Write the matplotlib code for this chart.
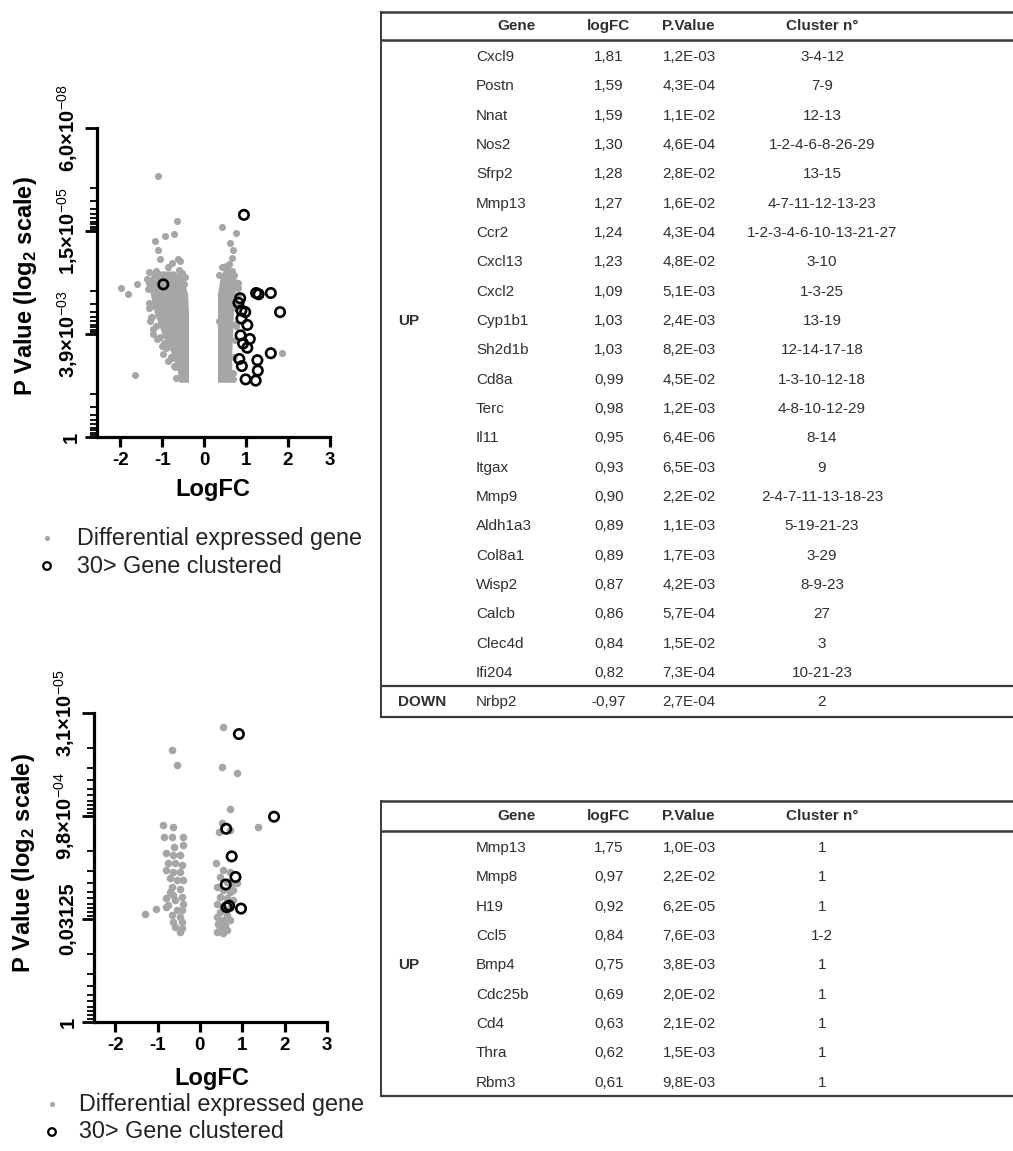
import numpy as np
import matplotlib
matplotlib.use("Agg")
import matplotlib.pyplot as plt

W, H = 1013, 1151
plt.rcParams["font.family"] = ["Liberation Sans", "DejaVu Sans"]
plt.rcParams["mathtext.fontset"] = "custom"
plt.rcParams["mathtext.rm"] = "Liberation Sans"
plt.rcParams["mathtext.bf"] = "Liberation Sans:bold"

GRAY = "#a6a6a6"
INK = "#303030"

# ---- table 1 (top): genes clustered, first comparison ----
genes1 = ["Cxcl9", "Postn", "Nnat", "Nos2", "Sfrp2", "Mmp13", "Ccr2", "Cxcl13",
          "Cxcl2", "Cyp1b1", "Sh2d1b", "Cd8a", "Terc", "Il11", "Itgax", "Mmp9",
          "Aldh1a3", "Col8a1", "Wisp2", "Calcb", "Clec4d", "Ifi204", "Nrbp2"]
logfc1 = [1.81, 1.59, 1.59, 1.30, 1.28, 1.27, 1.24, 1.23, 1.09, 1.03, 1.03, 0.99,
          0.98, 0.95, 0.93, 0.90, 0.89, 0.89, 0.87, 0.86, 0.84, 0.82, -0.97]
pval1 = [1.2e-3, 4.3e-4, 1.1e-2, 4.6e-4, 2.8e-2, 1.6e-2, 4.3e-4, 4.8e-2, 5.1e-3,
         2.4e-3, 8.2e-3, 4.5e-2, 1.2e-3, 6.4e-6, 6.5e-3, 2.2e-2, 1.1e-3, 1.7e-3,
         4.2e-3, 5.7e-4, 1.5e-2, 7.3e-4, 2.7e-4]
cluster1 = ["3-4-12", "7-9", "12-13", "1-2-4-6-8-26-29", "13-15", "4-7-11-12-13-23",
            "1-2-3-4-6-10-13-21-27", "3-10", "1-3-25", "13-19", "12-14-17-18",
            "1-3-10-12-18", "4-8-10-12-29", "8-14", "9", "2-4-7-11-13-18-23",
            "5-19-21-23", "3-29", "8-9-23", "27", "3", "10-21-23", "2"]
n_up1 = 22

# ---- table 2 (bottom) ----
genes2 = ["Mmp13", "Mmp8", "H19", "Ccl5", "Bmp4", "Cdc25b", "Cd4", "Thra", "Rbm3"]
logfc2 = [1.75, 0.97, 0.92, 0.84, 0.75, 0.69, 0.63, 0.62, 0.61]
pval2 = [1.0e-3, 2.2e-2, 6.2e-5, 7.6e-3, 3.8e-3, 2.0e-2, 2.1e-2, 1.5e-3, 9.8e-3]
cluster2 = ["1", "1", "1", "1-2", "1", "1", "1", "1", "1"]

# ---- volcano 1: dense bands of DE genes (y = -log2 P) ----
band1_left_y = [4.25, 5.2, 6.5, 8.0, 9.6, 11.1, 12.3, 12.9]
band1_left_x0 = [-0.60, -0.64, -0.78, -1.00, -1.18, -1.28, -1.30, -1.22]
band1_left_x1 = [-0.37, -0.37, -0.37, -0.37, -0.37, -0.39, -0.50, -0.70]
band1_right_y = [4.25, 6.5, 9.6, 11.1, 12.2, 13.1]
band1_right_x0 = [0.32, 0.32, 0.32, 0.32, 0.37, 0.47]
band1_right_x1 = [0.66, 0.66, 0.70, 0.74, 0.78, 0.67]

# scattered DE genes outside / on the edge of the dense bands
gray1_x = [-1.10, -0.65, -0.71, -0.93, -1.17, -1.09, -1.05, -0.62, -0.76, -0.57,
           -1.98, -1.81, -1.60, -0.48, -1.64, -1.21, -0.97, -0.77, -1.15, -0.85,
           -1.25, -1.20, -1.28, -1.22, -1.12, -1.00, -0.90, -0.85, -0.72, -1.30,
           -1.36, -1.30, -0.45, -0.55,
           -0.66, -0.70, -0.79, -0.95, -1.06, -1.15, -1.26, -1.31, -1.34, -1.32,
           -0.52, -0.60, -0.88, -1.03, -1.18,
           0.43, 0.76, 0.62, 0.69, 0.67, 0.57, 1.85, 0.72, 0.80, 0.60, 0.78,
           0.75, 0.52, 0.66,
           0.69, 0.71, 0.73, 0.75, 0.77, 0.80, 0.82, 0.36, 0.42, 0.70, 0.35]
gray1_y = [20.3, 16.8, 15.8, 15.6, 15.2, 14.5, 13.8, 13.8, 13.5, 13.7,
           11.6, 11.1, 11.9, 11.9, 4.8, 8.0, 6.45, 6.1, 12.9, 13.2,
           9.3, 10.2, 9.0, 8.4, 7.6, 7.1, 6.9, 5.9, 5.5, 10.0,
           12.3, 12.8, 12.4, 12.6,
           4.6, 5.4, 6.2, 7.3, 7.8, 8.6, 9.3, 10.4, 11.5, 12.0,
           12.7, 13.0, 7.9, 8.9, 10.6,
           16.3, 15.85, 15.1, 14.5, 13.9, 13.0, 6.5, 12.6, 11.6, 13.4, 10.3,
           8.6, 13.3, 12.9,
           5.0, 6.2, 7.5, 8.8, 10.0, 11.0, 12.0, 12.6, 13.2, 4.5, 9.0]

# ---- volcano 2: DE genes ----
gray2_x = [-0.87, -0.63, -0.85, -0.65, -0.41, -0.62, -0.41, -0.81, -0.63, -0.47,
           -0.75, -0.59, -0.43, -0.79, -0.63, -0.47, -0.71, -0.55, -0.41, -0.67,
           -0.47, -0.63, -0.43, -0.79, -0.59, -0.41, -0.75, -0.55, -0.43, -1.03,
           -1.30, -0.67, -0.47, -0.63, -0.43, -0.59, -0.43, -0.47, -0.79, -0.71,
           -0.67, -0.53,
           0.38, 0.54, 0.70, 0.47, 0.63, 0.75, 0.40, 0.55, 0.71, 0.47,
           0.63, 0.79, 0.40, 0.55, 0.71, 0.47, 0.63, 0.40, 0.55, 0.71,
           0.43, 0.59, 0.47, 0.63, 0.40, 0.55, 0.51, 0.71, 0.79, 0.87,
           0.54, 0.53, 0.87, 0.70, 1.36, 0.46]
gray2_y = [9.56, 9.45, 9.00, 9.00, 9.00, 8.51, 8.59, 8.18, 8.10, 8.10,
           7.70, 7.70, 7.62, 7.37, 7.29, 7.29, 6.97, 6.89, 6.89, 6.56,
           6.48, 6.16, 6.08, 6.00, 5.92, 5.75, 5.67, 5.43, 5.43, 5.48,
           5.23, 5.19, 5.11, 4.86, 4.86, 4.62, 4.54, 4.38, 5.59, 6.32,
           13.2, 12.5,
           7.70, 7.37, 7.29, 7.05, 6.81, 6.73, 6.56, 6.40, 6.32, 6.08,
           6.00, 5.92, 5.75, 5.59, 5.51, 5.35, 5.19, 5.11, 4.94, 4.94,
           4.78, 4.70, 4.54, 4.46, 4.38, 4.30, 9.64, 9.32, 6.40, 6.73,
           14.33, 12.36, 12.1, 10.33, 9.45, 9.24]

fig = plt.figure(figsize=(W / 100, H / 100), dpi=100)


def px_axes(x0, y0, x1, y1):
    return fig.add_axes([x0 / W, 1 - y1 / H, (x1 - x0) / W, (y1 - y0) / H])


def volcano(ax, bands, gx, gy, cx, cy, xlim, ticks, ticklabels, dot_s):
    for yb, xl, xr in bands:
        ax.fill_betweenx(yb, xl, xr, color=GRAY, lw=0, zorder=1)
    ax.scatter(gx, gy, s=dot_s, color=GRAY, lw=0, zorder=2)
    ax.scatter(cx, cy, s=46, facecolors="none", edgecolors="black",
               linewidths=1.9, zorder=3)
    ax.set_xlim(*xlim)
    ax.set_ylim(0, ticks[-1])
    for s in ("top", "right"):
        ax.spines[s].set_visible(False)
    for s in ("left", "bottom"):
        ax.spines[s].set_linewidth(2.3)
    ax.set_xticks(range(-2, 4))
    ax.set_xticklabels([str(v) for v in range(-2, 4)], fontsize=13.5,
                       fontweight="bold")
    ax.set_yticks(ticks)
    ax.set_yticklabels(ticklabels, rotation=90, va="center", fontsize=14.5,
                       fontweight="bold")
    minor = [t + np.log2(10 / n) for t in ticks[:-1] for n in range(1, 10)]
    ax.set_yticks(minor, minor=True)
    ax.tick_params(axis="x", length=7, width=2.3, pad=4)
    ax.tick_params(axis="y", which="major", length=9, width=2, pad=3)
    ax.tick_params(axis="y", which="minor", length=5, width=1.3)
    ax.patch.set_alpha(0)


ax1 = px_axes(97, 128, 330, 437)
volcano(ax1,
        [(band1_left_y, band1_left_x0, band1_left_x1),
         (band1_right_y, band1_right_x0, band1_right_x1)],
        gray1_x, gray1_y, logfc1, -np.log2(pval1), (-2.55, 3.0),
        [0, 8, 16, 24],
        ["1", r"3,9×10$^{-03}$", r"1,5×10$^{-05}$", r"6,0×10$^{-08}$"], 26)

ax2 = px_axes(94, 713, 327, 1022)
volcano(ax2, [], gray2_x, gray2_y, logfc2, -np.log2(pval2), (-2.5, 3.0),
        [0, 5, 10, 15],
        ["1", "0,03125", r"9,8×10$^{-04}$", r"3,1×10$^{-05}$"], 30)

# ---- overlay in pixel coordinates: labels, legends, tables ----
ov = fig.add_axes([0, 0, 1, 1])
ov.set_xlim(0, W)
ov.set_ylim(H, 0)
ov.axis("off")

ylab = r"P Value (log$_\mathbf{2}$ scale)"
ov.text(26, 286, ylab, rotation=90, ha="center", va="center", fontsize=17,
        fontweight="bold")
ov.text(24, 863, ylab, rotation=90, ha="center", va="center", fontsize=17,
        fontweight="bold")
ov.text(213, 489, "LogFC", ha="center", va="center", fontsize=17, fontweight="bold")
ov.text(212, 1078, "LogFC", ha="center", va="center", fontsize=17, fontweight="bold")

for mx, tx, y_a, y_b in [(47, 77, 538, 566), (52, 79, 1104, 1132)]:
    ov.scatter([mx], [y_a], s=14, color=GRAY, lw=0)
    ov.scatter([mx], [y_b], s=30, facecolors="none", edgecolors="black",
               linewidths=1.6)
    ov.text(tx, y_a, "Differential expressed gene", va="center", fontsize=16.8,
            color="#222222")
    ov.text(tx, y_b, "30> Gene clustered", va="center", fontsize=16.8,
            color="#222222")


def fmt_fc(v):
    return f"{v:.2f}".replace(".", ",")


def fmt_p(p):
    return f"{p:.1E}".replace(".", ",")


def table(top, head_line, bottom, first_row, genes, fcs, ps, clusters, n_up,
          up_row, sep=None):
    lc = "#3a3a3a"
    ov.plot([381, W], [top, top], color=lc, lw=1.8)
    ov.plot([381, W], [head_line, head_line], color=lc, lw=1.8)
    ov.plot([381, W], [bottom, bottom], color=lc, lw=1.6)
    ov.plot([381, 381], [top, bottom], color=lc, lw=1.4)
    if sep is not None:
        ov.plot([381, W], [sep, sep], color=lc, lw=1.6)
    hy = (top + head_line) / 2
    for hx, txt in [(517, "Gene"), (609, "logFC"), (688, "P.Value"), (822, "Cluster n°")]:
        ov.text(hx, hy, txt, ha="center", va="center", fontsize=11,
                fontweight="bold", color=INK)
    step = 29.33
    for i, (g, fc, p, c) in enumerate(zip(genes, fcs, ps, clusters)):
        y = first_row + i * step
        if i >= n_up:
            y = sep + (bottom - sep) / 2
        ov.text(476, y, g, va="center", fontsize=11, color=INK)
        ov.text(609, y, fmt_fc(fc), ha="center", va="center", fontsize=11, color=INK)
        ov.text(689, y, fmt_p(p), ha="center", va="center", fontsize=11, color=INK)
        ov.text(822, y, c, ha="center", va="center", fontsize=11, color=INK)
    ov.text(398, first_row + up_row * step, "UP", va="center", fontsize=11,
            fontweight="bold", color=INK)
    if sep is not None:
        ov.text(398, sep + (bottom - sep) / 2, "DOWN", va="center", fontsize=11,
                fontweight="bold", color=INK)


table(12, 40, 717, 57, genes1, logfc1, pval1, cluster1, n_up1, 9, sep=686)
table(801, 831, 1096, 848, genes2, logfc2, pval2, cluster2, len(genes2), 4)

fig.savefig("out.png", dpi=100)
